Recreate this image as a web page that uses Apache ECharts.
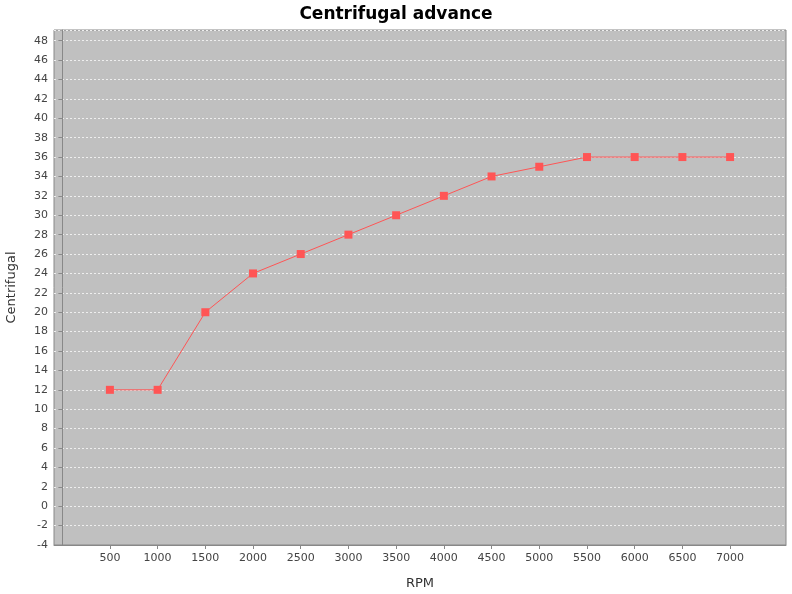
<!DOCTYPE html>
<html><head><meta charset="utf-8">
<script src="https://cdn.jsdelivr.net/npm/echarts@6/dist/echarts.min.js"></script>
<style>html,body{margin:0;padding:0;background:#fff}#c{width:792px;height:594px}</style>
</head><body><div id="c"></div>
<script>
const rpm = [500,1000,1500,2000,2500,3000,3500,4000,4500,5000,5500,6000,6500,7000];
const advance = [12,12,20,24,26,28,30,32,34,35,36,36,36,36];
const xTicks = [500,1000,1500,2000,2500,3000,3500,4000,4500,5000,5500,6000,6500,7000];
const chart = echarts.init(document.getElementById('c'));
chart.setOption({
  animation:false,
  title:{text:'Centrifugal advance',left:'center',top:1,textStyle:{fontFamily:'DejaVu Sans',fontWeight:'bold',fontSize:17,color:'#000'}},
  grid:{left:54,right:6,top:30,bottom:49,outerBoundsMode:'none',containLabel:false,show:true,backgroundColor:'#c0c0c0',borderColor:'#888',borderWidth:1},
  xAxis:{type:'value',min:-86,max:7586,name:'RPM',nameLocation:'middle',nameGap:32,
    nameTextStyle:{fontFamily:'DejaVu Sans',fontSize:13,color:'#333'},
    axisLine:{show:true,onZero:false,lineStyle:{color:'#888'}},splitLine:{show:false},
    axisTick:{show:true,inside:false,customValues:xTicks,length:4,lineStyle:{color:'#888'}},
    axisLabel:{customValues:xTicks,formatter:v=>String(v),fontFamily:'DejaVu Sans',fontSize:11,color:'#444',margin:8}},
  yAxis:{type:'value',min:-4,max:49.1,interval:2,name:'Centrifugal',nameLocation:'middle',nameGap:36,
    nameTextStyle:{fontFamily:'DejaVu Sans',fontSize:13,color:'#333'},
    axisLine:{show:true,lineStyle:{color:'#888'}},
    axisTick:{show:true,inside:false,length:4,lineStyle:{color:'#888'}},
    axisLabel:{showMaxLabel:false,fontFamily:'DejaVu Sans',fontSize:11,color:'#444',margin:6},
    splitLine:{show:true,lineStyle:{color:'#eee',type:[2,2],width:1}}},
  series:[{type:'line',data:rpm.map((r,i)=>[r,advance[i]]),symbol:'rect',symbolSize:8,
    itemStyle:{color:'#ff5555'},lineStyle:{color:'#ff5555',width:1}}]
});
</script></body></html>
